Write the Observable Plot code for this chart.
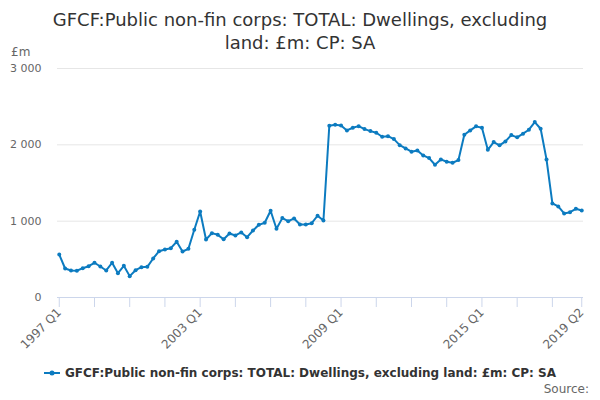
<!DOCTYPE html>
<html><head><meta charset="utf-8">
<script src="https://cdn.jsdelivr.net/npm/d3@7"></script>
<script src="https://cdn.jsdelivr.net/npm/@observablehq/plot@0.6"></script>
<style>
body{margin:0;background:#fff;font-family:"DejaVu Sans",sans-serif;}
#wrap{position:relative;width:600px;height:400px;overflow:hidden;background:#fff}
#title{position:absolute;top:8px;left:0;width:600px;text-align:center;font-size:18px;color:#333;line-height:23px}
#unit{position:absolute;left:11px;top:46px;font-size:12px;line-height:12px;color:#666}
#chart{position:absolute;left:0;top:0}
#legend{position:absolute;top:366px;left:0;width:600px;text-align:center;font-size:12px;font-weight:bold;color:#333;white-space:nowrap;line-height:14px}
#legend svg{vertical-align:middle;margin-right:5px;margin-top:-2px}
#source{position:absolute;right:11px;top:383px;font-size:12px;line-height:13px;color:#666}
</style>
</head><body>
<div id="wrap">
  <div id="chart"></div>
  <div id="title"></div>
  <div id="unit"></div>
  <div id="legend"></div>
  <div id="source"></div>
</div>
<script>
const titleLines = ["GFCF:Public non-fin corps: TOTAL: Dwellings, excluding", "land: £m: CP: SA"];
const seriesName = "GFCF:Public non-fin corps: TOTAL: Dwellings, excluding land: £m: CP: SA";
const unitLabel = "£m";
const sourceLabel = "Source:";
const lineColor = "#0c7bc0";

const startYear = 1997;
const quarters = [];
for (let y = startYear; y <= 2019; y++) for (let q = 1; q <= 4; q++) quarters.push(`${y} Q${q}`);
quarters.length = 90; // through 2019 Q2

const values = [
  563, 380, 354, 350, 384, 410, 455, 406,
  354, 455, 319, 415, 280, 358, 397, 402,
  511, 607, 629, 646, 730, 603, 638, 887,
  1127, 760, 843, 821, 764, 839, 813, 852,
  790, 878, 952, 979, 1136, 900, 1040, 1000,
  1035, 957, 957, 974, 1071, 1009, 2250, 2263,
  2254, 2189, 2224, 2245, 2206, 2180, 2158, 2106,
  2114, 2075, 1996, 1953, 1910, 1927, 1861, 1826,
  1739, 1809, 1778, 1765, 1800, 2132, 2189, 2242,
  2224, 1935, 2036, 1993, 2045, 2128, 2098, 2146,
  2198, 2298, 2211, 1809, 1232, 1193, 1101, 1118,
  1162, 1140
];

const xTickLabels = ["1997 Q1", "2003 Q1", "2009 Q1", "2015 Q1", "2019 Q2"];
const yTicks = [0, 1000, 2000, 3000];

const data = quarters.map((q, i) => ({q, v: values[i]}));
const xTicks = quarters.filter((q, i) => i % 6 === 0).concat([quarters[quarters.length - 1]]);

document.getElementById("title").innerHTML = titleLines.join("<br>");
document.getElementById("unit").textContent = unitLabel;
document.getElementById("source").textContent = sourceLabel;
document.getElementById("legend").innerHTML =
  `<svg width="16" height="10"><line x1="0" y1="5" x2="16" y2="5" stroke="${lineColor}" stroke-width="2"/><circle cx="8" cy="5" r="2.5" fill="${lineColor}"/></svg>` +
  `<span></span>`;
document.querySelector("#legend span").textContent = seriesName;

const fmt = d => d3.format(",")(d).replace(/,/g, " ");

const chart = Plot.plot({
  width: 600,
  height: 400,
  marginTop: 68,
  marginBottom: 103,
  marginLeft: 57,
  marginRight: 17,
  style: {fontFamily: "DejaVu Sans, sans-serif", background: "transparent"},
  x: {type: "point", domain: quarters, padding: 0.3, axis: null},
  y: {domain: [0, 3000], axis: null},
  marks: [
    Plot.gridY(yTicks.filter(d => d > 0), {stroke: "#e6e6e6", strokeOpacity: 1}),
    Plot.ruleY([0], {stroke: "#ccd6eb"}),
    Plot.axisY({ticks: yTicks, tickFormat: fmt, tickSize: 0, tickPadding: 16, fontSize: 11, fill: "#666", label: null}),
    Plot.axisX({ticks: xTicks, tickFormat: d => xTickLabels.includes(d) ? d : "", tickSize: 10, stroke: "#ccd6eb", strokeOpacity: 1, fill: "#666", fontSize: 12, tickRotate: -45, tickPadding: 3, label: null}),
    Plot.line(data, {x: "q", y: "v", stroke: lineColor, strokeWidth: 2}),
    Plot.dot(data, {x: "q", y: "v", r: 2, fill: lineColor})
  ]
});
document.getElementById("chart").appendChild(chart);
</script>
</body></html>
